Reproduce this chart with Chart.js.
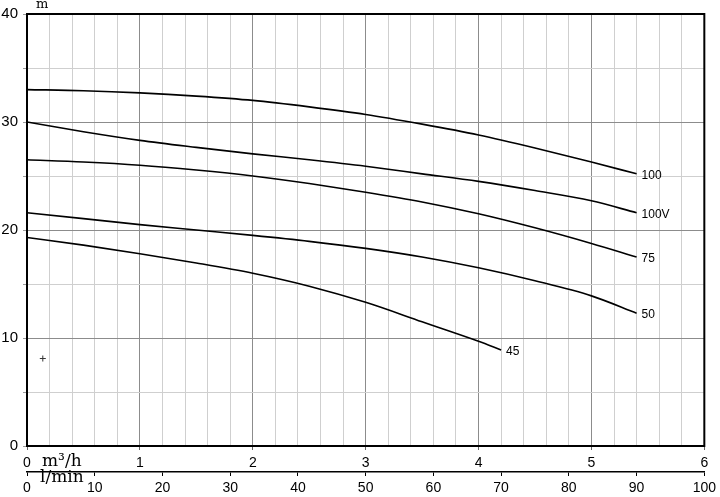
<!DOCTYPE html>
<html>
<head>
<meta charset="utf-8">
<script src="https://cdn.jsdelivr.net/npm/chart.js@4"></script>
<style>
  html, body { margin: 0; padding: 0; background: #fff; }
  #wrap { width: 720px; height: 497px; }
</style>
</head>
<body>
<div id="wrap"><canvas id="grafico"></canvas></div>
<script>
// portata in m3/h
const portata = [0, 0.5, 1, 1.5, 2, 2.5, 3, 3.5, 4, 4.5, 5, 5.4];
const portata45 = [0, 0.5, 1, 1.5, 2, 2.5, 3, 3.5, 4, 4.2];

// prevalenza in m
const h100  = [33.0, 32.9, 32.7, 32.4, 32.0, 31.4, 30.7, 29.8, 28.8, 27.6, 26.3, 25.2];
const h100V = [30.0, 29.1, 28.3, 27.65, 27.05, 26.5, 25.9, 25.2, 24.5, 23.65, 22.7, 21.6];
const h75   = [26.5, 26.3, 26.0, 25.55, 25.0, 24.3, 23.5, 22.6, 21.5, 20.2, 18.75, 17.5];
const h50   = [21.6, 21.05, 20.5, 20.0, 19.5, 18.95, 18.3, 17.5, 16.5, 15.3, 13.9, 12.3];
const h45   = [19.3, 18.6, 17.8, 16.95, 16.0, 14.8, 13.3, 11.5, 9.7, 8.9];

const nomi = ['100', '100V', '75', '50', '45'];

// segno "+" nel grafico
const segnoX = [0.14];
const segnoY = [8.1];

function punti(xs, ys) {
  return ys.map((v, i) => ({ x: xs[i], y: v }));
}

function intero(v) {
  return Math.abs(v - Math.round(v)) < 1e-6;
}

const curve = [
  { label: nomi[0], data: punti(portata, h100) },
  { label: nomi[1], data: punti(portata, h100V) },
  { label: nomi[2], data: punti(portata, h75) },
  { label: nomi[3], data: punti(portata, h50) },
  { label: nomi[4], data: punti(portata45, h45) }
].map(d => Object.assign(d, {
  borderColor: '#000',
  borderWidth: 1.6,
  pointRadius: 0,
  fill: false,
  cubicInterpolationMode: 'monotone'
}));

curve.push({
  label: 'segno',
  data: punti(segnoX, segnoY),
  showLine: false,
  pointStyle: 'cross',
  pointRadius: 3,
  borderWidth: 1,
  borderColor: '#333'
});

// cornice, nomi curve e unità
const extra = {
  id: 'extra',
  afterDraw(chart) {
    const c = chart.ctx, a = chart.chartArea;
    c.save();
    c.strokeStyle = '#000';
    c.lineWidth = 2;
    c.strokeRect(a.left, a.top, a.right - a.left, a.bottom - a.top);

    c.fillStyle = '#000';
    c.font = '12px "Liberation Sans", Arial, sans-serif';
    c.textBaseline = 'middle';
    c.textAlign = 'left';
    for (let i = 0; i < 5; i++) {
      const meta = chart.getDatasetMeta(i);
      const p = meta.data[meta.data.length - 1];
      c.fillText(chart.data.datasets[i].label, p.x + 5, p.y + 2);
    }

    c.textBaseline = 'alphabetic';
    c.font = '13px "DejaVu Serif", serif';
    c.fillText('m', a.left + 9, 8);
    c.font = '17px "DejaVu Serif", serif';
    c.fillText('m³/h', a.left + 15, a.bottom + 20);
    c.fillText('l/min', a.left + 13, a.bottom + 36);
    c.restore();
  }
};

new Chart(document.getElementById('grafico'), {
  type: 'line',
  data: { datasets: curve },
  options: {
    responsive: true,
    maintainAspectRatio: false,
    animation: false,
    layout: { padding: { top: 13, right: 0, left: 0, bottom: 0 } },
    plugins: { legend: { display: false }, tooltip: { enabled: false } },
    scales: {
      x: {
        type: 'linear',
        position: 'bottom',
        min: 0, max: 6,
        afterFit: s => { s.height = 26; },
        ticks: {
          stepSize: 0.2,
          autoSkip: false,
          maxRotation: 0,
          padding: 5,
          color: '#000',
          font: { family: '"Liberation Sans", Arial, sans-serif', size: 14 },
          callback: v => intero(v) ? Math.round(v) : ''
        },
        grid: {
          color: c => intero(c.tick.value) ? '#8c8c8c' : '#cfcfcf',
          tickColor: c => intero(c.tick.value) ? '#666' : 'transparent',
          tickLength: 4
        },
        border: { color: '#000', width: 2 }
      },
      x2: {
        type: 'linear',
        position: 'bottom',
        min: 0, max: 100,
        afterFit: s => { s.height = 25; },
        ticks: {
          stepSize: 10,
          autoSkip: false,
          maxRotation: 0,
          padding: 4,
          color: '#000',
          font: { family: '"Liberation Sans", Arial, sans-serif', size: 14 }
        },
        grid: { drawOnChartArea: false, tickColor: '#000', tickLength: 4 },
        border: { color: '#000', width: 1.5 }
      },
      y: {
        min: 0, max: 40,
        afterFit: s => { s.width = 27; },
        ticks: {
          stepSize: 5,
          padding: 5,
          color: '#000',
          font: { family: '"Liberation Sans", Arial, sans-serif', size: 15 },
          callback: v => v % 10 === 0 ? v : ''
        },
        grid: {
          color: c => c.tick.value % 10 === 0 ? '#8c8c8c' : '#cfcfcf',
          tickColor: '#999',
          tickLength: 4
        },
        border: { color: '#000', width: 2 }
      }
    }
  },
  plugins: [extra]
});
</script>
</body>
</html>
